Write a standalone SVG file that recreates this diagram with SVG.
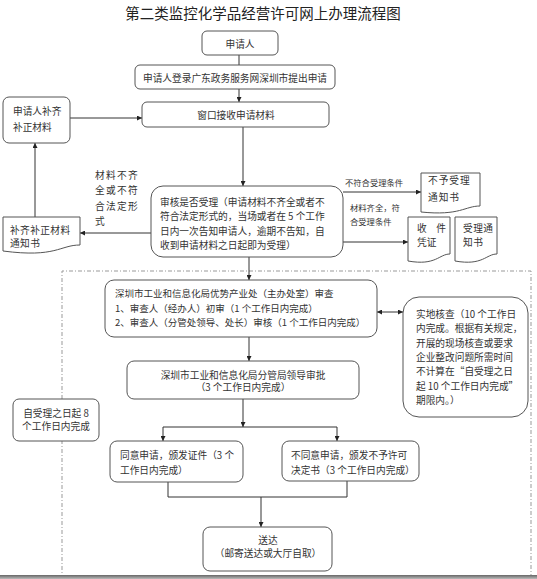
<svg xmlns="http://www.w3.org/2000/svg" width="537" height="579" viewBox="0 0 537 579">
<defs>
<marker id="ah" viewBox="0 0 10 10" refX="10" refY="5" markerWidth="5" markerHeight="5" orient="auto-start-reverse" markerUnits="userSpaceOnUse">
<path d="M0,0 L10,5 L0,10 Z" fill="#222"/>
</marker>
<linearGradient id="shadow" x1="0" y1="0" x2="0" y2="1">
<stop offset="0" stop-color="#666"/>
<stop offset="1" stop-color="#bbb"/>
</linearGradient>
<style>
text{font-family:"Noto Sans CJK SC","Liberation Sans",sans-serif;fill:#333;font-size:9.7px}
.title{font-size:14.5px;fill:#222}
.box{fill:#fff;stroke:#555;stroke-width:1}
.ln{fill:none;stroke:#333;stroke-width:1}
.arr{fill:none;stroke:#333;stroke-width:1;marker-end:url(#ah)}
.dd{fill:none;stroke:#999;stroke-width:1;stroke-dasharray:4 2 1 2}
.mid{text-anchor:middle}
.sm{font-size:8.3px}
</style>
</defs>
<rect width="537" height="579" fill="#fff"/>
<text class="title mid" x="263" y="19">第二类监控化学品经营许可网上办理流程图</text>

<g id="frame">
<path class="dd" d="M62,579 V271 H531 V575"/>
</g>

<g id="connectors">
<line class="ln" x1="239" y1="55" x2="239" y2="65"/>
<line class="arr" x1="239" y1="89" x2="239" y2="102"/>
<line class="arr" x1="70" y1="118" x2="142" y2="118"/>
<line class="arr" x1="243" y1="127" x2="243" y2="186"/>
<line class="arr" x1="151" y1="233" x2="80" y2="233"/>
<line class="arr" x1="35" y1="217" x2="35" y2="143"/>
<line class="arr" x1="343" y1="192" x2="421" y2="192"/>
<line class="arr" x1="343" y1="242" x2="408" y2="242"/>
<line class="arr" x1="249" y1="257" x2="249" y2="280"/>
<line class="arr" x1="377" y1="312" x2="403" y2="312" style="marker-start:url(#ah)"/>
<line class="arr" x1="249" y1="337" x2="249" y2="361"/>
<line class="arr" x1="243" y1="399" x2="243" y2="427"/>
<line class="ln" x1="163" y1="427" x2="337" y2="427"/>
<line class="arr" x1="163" y1="427" x2="163" y2="441"/>
<line class="arr" x1="337" y1="427" x2="337" y2="441"/>
<polyline class="ln" points="168,482 168,497 347,497 347,481"/>
<line class="arr" x1="261" y1="497" x2="261" y2="527"/>
</g>

<g id="applicant">
<rect class="box" x="202" y="31" width="76" height="24" rx="5"/>
<text class="mid" x="240" y="47.5">申请人</text>
</g>

<g id="login">
<rect class="box" x="135" y="65" width="200" height="24" rx="5"/>
<text class="mid" x="235" y="81.5">申请人登录广东政务服务网深圳市提出申请</text>
</g>

<g id="window">
<rect class="box" x="142" y="102" width="187" height="25" rx="5"/>
<text class="mid" x="236" y="118.5">窗口接收申请材料</text>
</g>

<g id="supplement">
<rect class="box" x="3" y="97" width="67" height="46" rx="6"/>
<text x="13" y="114.5">申请人补齐</text>
<text x="13" y="130.5">补正材料</text>
</g>

<g id="review">
<rect class="box" x="151" y="186" width="192" height="71" rx="12"/>
<text x="160" y="205.5">审核是否受理（申请材料不齐全或者不</text>
<text x="160" y="220">符合法定形式的，当场或者在 5 个工作</text>
<text x="160" y="234.5">日内一次告知申请人，逾期不告知，自</text>
<text x="160" y="249">收到申请材料之日起即为受理）</text>
</g>

<g id="label-incomplete">
<text x="95" y="178.5" style="letter-spacing:1.3px">材料不齐</text>
<text x="95" y="194" style="letter-spacing:1.3px">全或不符</text>
<text x="95" y="209.5" style="letter-spacing:1.3px">合法定形</text>
<text x="95" y="225" style="letter-spacing:1.3px">式</text>
</g>

<g id="notice-supplement">
<path class="box" d="M3,217 H80 V245 C60,245 56,258 3,251 Z"/>
<text x="10" y="233.5" style="letter-spacing:0.4px">补齐补正材料</text>
<text x="10" y="246.5" style="letter-spacing:0.4px">通知书</text>
</g>

<g id="label-reject">
<text class="sm" x="345" y="186">不符合受理条件</text>
</g>
<g id="label-accept">
<text class="sm" x="350" y="211">材料齐全，符</text>
<text class="sm" x="350" y="225">合受理条件</text>
</g>

<g id="notice-reject">
<path class="box" d="M421,173 H480 V206 C465,206 460,216 421,212 Z"/>
<text x="428" y="184" style="letter-spacing:1px">不予受理</text>
<text x="428" y="200.5" style="letter-spacing:1px">通知书</text>
</g>

<g id="receipt">
<path class="box" d="M408,217 H450 V254 C439,254 436,266 408,261 Z"/>
<text x="417" y="231.5">收　件</text>
<text x="417" y="245.5">凭证</text>
</g>

<g id="notice-accept">
<path class="box" d="M455,217 H497 V254 C486,254 483,266 455,261 Z"/>
<text x="463" y="231.5" style="letter-spacing:0.5px">受理通</text>
<text x="463" y="245.5" style="letter-spacing:0.5px">知书</text>
</g>

<g id="dept-review">
<rect class="box" x="105" y="280" width="272" height="57" rx="9"/>
<text x="115" y="297" style="font-size:9.5px">深圳市工业和信息化局优势产业处（主办处室）审查</text>
<text x="115" y="311.5" style="font-size:9.5px">1、审查人（经办人）初审（1 个工作日内完成）</text>
<text x="115" y="325.5" style="font-size:9.5px">2、审查人（分管处领导、处长）审核（1 个工作日内完成）</text>
</g>

<g id="site-check">
<rect class="box" x="403" y="297" width="125" height="120" rx="16"/>
<text x="416" y="317.5">实地核查（10 个工作日</text>
<text x="416" y="332">内完成。根据有关规定，</text>
<text x="416" y="346.5">开展的现场核查或要求</text>
<text x="416" y="361">企业整改问题所需时间</text>
<text x="416" y="375">不计算在“自受理之日</text>
<text x="416" y="389.5">起 10 个工作日内完成”</text>
<text x="416" y="404">期限内。）</text>
</g>

<g id="leader-approve">
<rect class="box" x="127" y="361" width="232" height="38" rx="7"/>
<text class="mid" x="243" y="378.5">深圳市工业和信息化局分管局领导审批</text>
<text class="mid" x="243" y="391">（3 个工作日内完成）</text>
</g>

<g id="deadline">
<rect class="box" x="13" y="399" width="86" height="42" rx="6"/>
<text class="mid" x="56" y="416.5">自受理之日起 8</text>
<text class="mid" x="56" y="429.5">个工作日内完成</text>
</g>

<g id="approve">
<rect class="box" x="110" y="441" width="133" height="41" rx="7"/>
<text x="120" y="458.5">同意申请，颁发证件（3 个</text>
<text x="120" y="473.5">工作日内完成）</text>
</g>

<g id="deny">
<rect class="box" x="282" y="441" width="137" height="40" rx="7"/>
<text x="291" y="458.5">不同意申请，颁发不予许可</text>
<text x="291" y="473.5">决定书（3 个工作日内完成）</text>
</g>

<g id="deliver">
<rect class="box" x="203" y="527" width="129" height="44" rx="7"/>
<text class="mid" x="268" y="543.5">送达</text>
<text class="mid" x="268" y="556.5">（邮寄送达或大厅自取）</text>
</g>

<rect x="0" y="575" width="537" height="4" fill="url(#shadow)"/>
</svg>
